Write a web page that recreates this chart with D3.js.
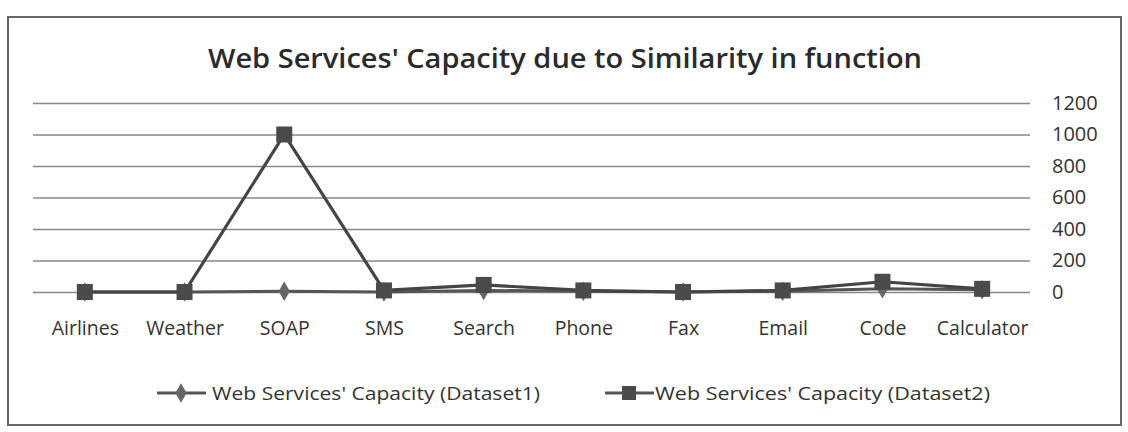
<!DOCTYPE html>
<html>
<head>
<meta charset="utf-8">
<script src="https://cdn.jsdelivr.net/npm/d3@7"></script>
<style>
  body { margin: 0; background: #fff; }
  text { font-family: "Open Sans", "DejaVu Sans", sans-serif; fill: #333; }
</style>
</head>
<body>
<div id="svg-area"></div>
<script>
// Chart data
var categories = ["Airlines", "Weather", "SOAP", "SMS", "Search", "Phone", "Fax", "Email", "Code", "Calculator"];
var dataset1 = [0, 0, 5, 0, 10, 5, 0, 5, 20, 15];
var dataset2 = [0, 0, 1000, 10, 45, 10, 0, 10, 65, 20];
var yTicks = [0, 200, 400, 600, 800, 1000, 1200];
var seriesNames = ["Web Services' Capacity (Dataset1)", "Web Services' Capacity (Dataset2)"];

var svgWidth = 1128;
var svgHeight = 432;

var svg = d3.select("#svg-area")
  .append("svg")
  .attr("width", svgWidth)
  .attr("height", svgHeight);

// outer frame
svg.append("rect")
  .attr("x", 8).attr("y", 17)
  .attr("width", 1113).attr("height", 408)
  .attr("fill", "none")
  .attr("stroke", "#666")
  .attr("stroke-width", 2);

// title
svg.append("text")
  .attr("x", 565).attr("y", 68)
  .attr("text-anchor", "middle")
  .attr("textLength", 714)
  .attr("lengthAdjust", "spacingAndGlyphs")
  .style("font-size", "27px")
  .style("font-weight", 600)
  .style("fill", "#2a2a2a")
  .text("Web Services' Capacity due to Similarity in function");

// scales
var x = d3.scalePoint()
  .domain(categories)
  .range([35, 1032])
  .padding(0.5);

var y = d3.scaleLinear()
  .domain([0, 1200])
  .range([292, 103]);

// gridlines + right axis
var rightAxis = d3.axisRight(y)
  .tickValues(yTicks)
  .tickFormat(d3.format("d"))
  .tickSize(-(1030 - 33));

var yAxis = svg.append("g")
  .attr("transform", "translate(1030,0)")
  .call(rightAxis);
yAxis.select(".domain").remove();
yAxis.selectAll(".tick line")
  .attr("stroke", "#888")
  .attr("stroke-width", 1.3);
yAxis.selectAll(".tick text")
  .style("font-size", "20px")
  .style("fill", "#333")
  .attr("x", 22);

// category labels
var bottomAxis = d3.axisBottom(x).tickSize(0).tickPadding(0);
var xAxis = svg.append("g")
  .attr("transform", "translate(0,321)")
  .call(bottomAxis);
xAxis.select(".domain").remove();
xAxis.selectAll(".tick text")
  .style("font-size", "19.5px")
  .style("fill", "#333");

var line = d3.line()
  .x(function(d, i) { return x(categories[i]); })
  .y(function(d) { return y(d); });

// Dataset1 line
svg.append("path")
  .datum(dataset1)
  .attr("d", line)
  .attr("fill", "none")
  .attr("stroke", "#555")
  .attr("stroke-width", 3);

// Dataset2 line
svg.append("path")
  .datum(dataset2)
  .attr("d", line)
  .attr("fill", "none")
  .attr("stroke", "#444")
  .attr("stroke-width", 3.2);

var diamond = d3.symbol().type(d3.symbolDiamond).size(110);

svg.selectAll(".d1")
  .data(dataset1)
  .enter()
  .append("path")
  .attr("class", "d1")
  .attr("d", diamond)
  .attr("transform", function(d, i) { return "translate(" + x(categories[i]) + "," + y(d) + ")"; })
  .attr("fill", "#666");

svg.selectAll(".d2")
  .data(dataset2)
  .enter()
  .append("rect")
  .attr("class", "d2")
  .attr("x", function(d, i) { return x(categories[i]) - 8; })
  .attr("y", function(d) { return y(d) - 8; })
  .attr("width", 16)
  .attr("height", 16)
  .attr("fill", "#4a4a4a");

// legend
var legend = svg.append("g");
var legendX = [157, 605];

legend.selectAll("line")
  .data(seriesNames)
  .enter()
  .append("line")
  .attr("x1", function(d, i) { return legendX[i]; })
  .attr("x2", function(d, i) { return legendX[i] + 49; })
  .attr("y1", 393).attr("y2", 393)
  .attr("stroke", "#555")
  .attr("stroke-width", 3);

legend.append("path")
  .attr("d", diamond)
  .attr("transform", "translate(" + (legendX[0] + 24) + ",393)")
  .attr("fill", "#666");

legend.append("rect")
  .attr("x", legendX[1] + 17).attr("y", 386)
  .attr("width", 14).attr("height", 14)
  .attr("fill", "#4a4a4a");

legend.selectAll("text")
  .data(seriesNames)
  .enter()
  .append("text")
  .attr("x", function(d, i) { return legendX[i] + (i === 0 ? 55 : 50); })
  .attr("y", 400)
  .attr("textLength", function(d, i) { return i === 0 ? 328 : 335; })
  .attr("lengthAdjust", "spacingAndGlyphs")
  .style("font-size", "19px")
  .text(function(d) { return d; });
</script>
</body>
</html>
